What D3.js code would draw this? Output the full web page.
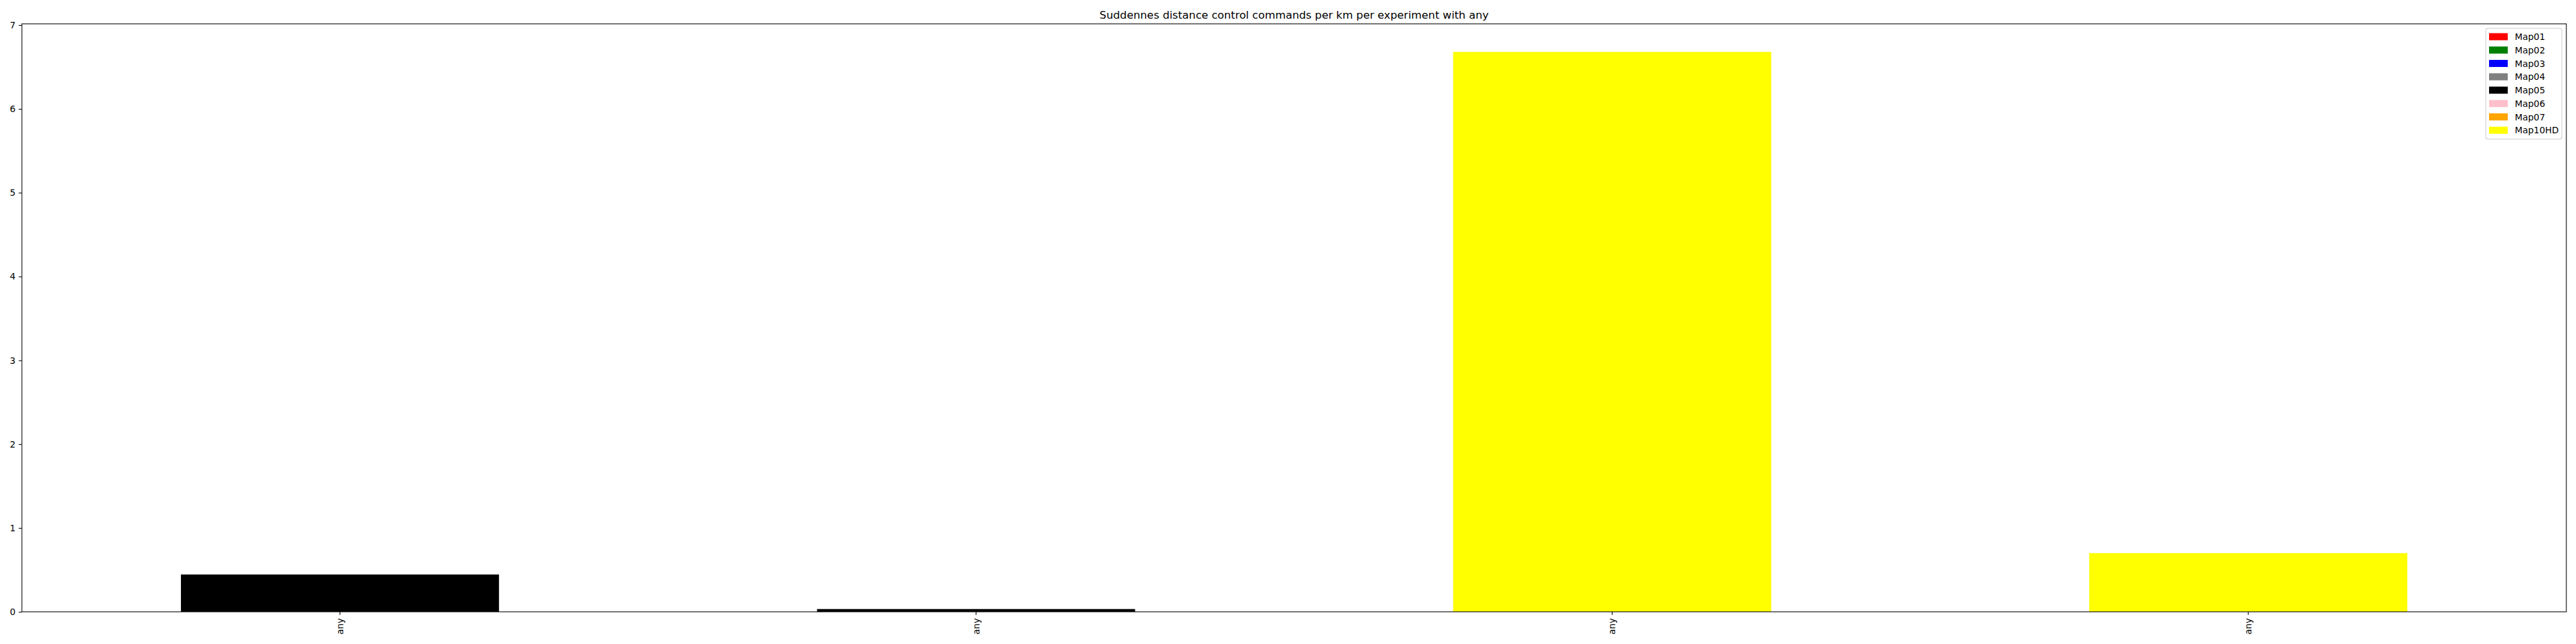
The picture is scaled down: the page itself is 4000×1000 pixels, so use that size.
<!DOCTYPE html>
<html>
<head>
<meta charset="utf-8">
<script src="https://cdn.jsdelivr.net/npm/d3@7"></script>
<style>
  body { margin: 0; background: #fff; }
  svg { display: block; font-family: "DejaVu Sans", sans-serif; }
</style>
</head>
<body>
<svg id="chart" width="4000" height="1000"></svg>
<script>
// ---- data ----
const title = "Suddennes distance control commands per km per experiment with any";
const categories = ["any", "any", "any", "any"];
const seriesNames = ["Map01", "Map02", "Map03", "Map04", "Map05", "Map06", "Map07", "Map10HD"];
const seriesColors = ["#ff0000", "#008000", "#0000ff", "#808080", "#000000", "#ffc0cb", "#ffa500", "#ffff00"];
const map01 = [0, 0, 0, 0];
const map02 = [0, 0, 0, 0];
const map03 = [0, 0, 0, 0];
const map04 = [0, 0, 0, 0];
const map05 = [0.445, 0.033, 0, 0];
const map06 = [0, 0, 0, 0];
const map07 = [0, 0, 0, 0];
const map10HD = [0, 0, 6.68, 0.70];
const yTicks = [0, 1, 2, 3, 4, 5, 6, 7];
const yMax = 7.015;

// ---- layout ----
const W = 4000, H = 1000;
const m = { left: 34, right: 15, top: 37, bottom: 50 };
const iw = W - m.left - m.right, ih = H - m.top - m.bottom;

const svg = d3.select("#chart");
const g = svg.append("g").attr("transform", `translate(${m.left},${m.top})`);

const seriesValues = [map01, map02, map03, map04, map05, map06, map07, map10HD];
const rows = categories.map((c, i) => {
  const r = { idx: i };
  seriesNames.forEach((s, k) => r[s] = seriesValues[k][i]);
  return r;
});
const stacked = d3.stack().keys(seriesNames)(rows);

const x = d3.scaleBand().domain(d3.range(categories.length)).range([0, iw])
  .paddingInner(0.5).paddingOuter(0.25);
const y = d3.scaleLinear().domain([0, yMax]).range([ih, 0]);
const color = d3.scaleOrdinal().domain(seriesNames).range(seriesColors);

// bars
g.selectAll("g.series").data(stacked).join("g")
  .attr("class", "series")
  .attr("fill", d => color(d.key))
  .selectAll("rect").data(d => d.filter(p => p[1] - p[0] > 0)).join("rect")
  .attr("x", p => x(p.data.idx))
  .attr("width", x.bandwidth())
  .attr("y", p => y(p[1]))
  .attr("height", p => y(p[0]) - y(p[1]));

const fs = 13.9;
// y axis
const yAxis = g.append("g").call(d3.axisLeft(y).tickValues(yTicks).tickSize(4.9).tickPadding(4.9).tickFormat(d3.format("d")));
yAxis.select(".domain").remove();
yAxis.selectAll("line").attr("stroke", "#000").attr("stroke-width", 1.1);
yAxis.selectAll("text").attr("font-size", fs).attr("font-family", "DejaVu Sans").attr("fill", "#000");

// x axis
const xAxis = g.append("g").attr("transform", `translate(0,${ih})`)
  .call(d3.axisBottom(x).tickSize(4.9).tickPadding(4.9).tickFormat(i => categories[i]));
xAxis.select(".domain").remove();
xAxis.selectAll("line").attr("stroke", "#000").attr("stroke-width", 1.1);
xAxis.selectAll("text")
  .attr("font-size", fs).attr("font-family", "DejaVu Sans").attr("fill", "#000")
  .attr("text-anchor", "end")
  .attr("dy", null)
  .attr("y", 0).attr("x", 0)
  .attr("dominant-baseline", "central")
  .attr("transform", "translate(0,9.8) rotate(-90)");

// frame
g.append("rect").attr("x", 0).attr("y", 0).attr("width", iw).attr("height", ih)
  .attr("fill", "none").attr("stroke", "#000").attr("stroke-width", 1.1);

// title
svg.append("text").attr("x", m.left + iw / 2).attr("y", m.top - 8.5)
  .attr("text-anchor", "middle").attr("font-size", 16.7).attr("fill", "#000")
  .text(title);

// legend
const lg = svg.append("g").attr("transform", "translate(3860,44)");
lg.append("rect").attr("width", 118).attr("height", 172).attr("rx", 3).attr("ry", 3)
  .attr("fill", "#fff").attr("fill-opacity", 0.8).attr("stroke", "#cccccc").attr("stroke-width", 1.1);
const items = lg.selectAll("g.item").data(seriesNames).join("g")
  .attr("class", "item")
  .attr("transform", (d, i) => `translate(0,${13 + i * 20.75})`);
items.append("rect").attr("x", 5).attr("y", -5.5).attr("width", 29).attr("height", 11)
  .attr("fill", d => color(d));
items.append("text").attr("x", 45).attr("y", 0).attr("dominant-baseline", "central")
  .attr("font-size", fs).attr("fill", "#000").text(d => d);
</script>
</body>
</html>
